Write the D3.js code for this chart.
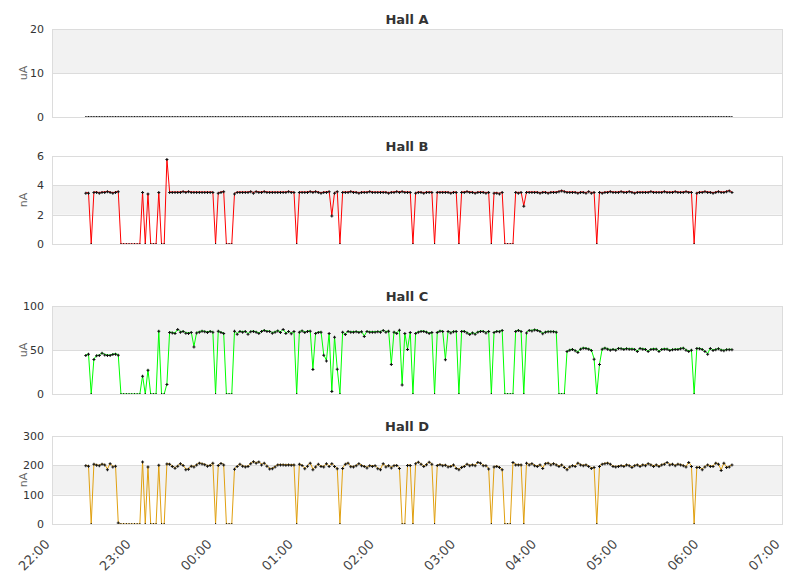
<!DOCTYPE html>
<html>
<head>
<meta charset="utf-8">
<script src="https://cdn.jsdelivr.net/npm/d3@7"></script>
<style>
  body { margin: 0; background: #fff; }
  svg text { font-family: "DejaVu Sans", sans-serif; }
</style>
</head>
<body>
<div id="chart"></div>
<script>
// readings every 2 minutes, first one at 22:25
const START_TIME = "2020-01-01T22:25:00";
const STEP_MINUTES = 2;
const X_DOMAIN = ["2020-01-01T22:00:00", "2020-01-02T07:00:00"];

const hallTitles = ["Hall A", "Hall B", "Hall C", "Hall D"];
const hallUnits = ["uA", "nA", "uA", "nA"];
const hallTicks = [[0, 10, 20], [0, 2, 4, 6], [0, 50, 100], [0, 100, 200, 300]];

const hallA = [
  0, 0, 0, 0, 0, 0, 0, 0, 0, 0,
  0, 0, 0, 0, 0, 0, 0, 0, 0, 0,
  0, 0, 0, 0, 0, 0, 0, 0, 0, 0,
  0, 0, 0, 0, 0, 0, 0, 0, 0, 0,
  0, 0, 0, 0, 0, 0, 0, 0, 0, 0,
  0, 0, 0, 0, 0, 0, 0, 0, 0, 0,
  0, 0, 0, 0, 0, 0, 0, 0, 0, 0,
  0, 0, 0, 0, 0, 0, 0, 0, 0, 0,
  0, 0, 0, 0, 0, 0, 0, 0, 0, 0,
  0, 0, 0, 0, 0, 0, 0, 0, 0, 0,
  0, 0, 0, 0, 0, 0, 0, 0, 0, 0,
  0, 0, 0, 0, 0, 0, 0, 0, 0, 0,
  0, 0, 0, 0, 0, 0, 0, 0, 0, 0,
  0, 0, 0, 0, 0, 0, 0, 0, 0, 0,
  0, 0, 0, 0, 0, 0, 0, 0, 0, 0,
  0, 0, 0, 0, 0, 0, 0, 0, 0, 0,
  0, 0, 0, 0, 0, 0, 0, 0, 0, 0,
  0, 0, 0, 0, 0, 0, 0, 0, 0, 0,
  0, 0, 0, 0, 0, 0, 0, 0, 0, 0,
  0, 0, 0, 0, 0, 0, 0, 0, 0, 0,
  0, 0, 0, 0, 0, 0, 0, 0, 0, 0,
  0, 0, 0, 0, 0, 0, 0, 0, 0, 0,
  0, 0, 0, 0, 0, 0, 0, 0, 0, 0,
  0, 0, 0, 0, 0, 0, 0, 0, 0, 0
];

const hallB = [
  3.5, 3.5, 0, 3.55, 3.55, 3.5, 3.55, 3.55, 3.6, 3.55,
  3.5, 3.55, 3.6, 0, 0, 0, 0, 0, 0, 0,
  0, 3.55, 0, 3.45, 0, 0, 0, 3.55, 0, 0,
  5.8, 3.55, 3.55, 3.55, 3.55, 3.55, 3.6, 3.55, 3.6, 3.55,
  3.55, 3.55, 3.55, 3.55, 3.55, 3.55, 3.55, 3.55, 0, 3.5,
  3.55, 3.6, 0, 0, 0, 3.45, 3.55, 3.55, 3.55, 3.55,
  3.55, 3.6, 3.5, 3.6, 3.55, 3.55, 3.6, 3.55, 3.55, 3.55,
  3.55, 3.55, 3.55, 3.55, 3.55, 3.6, 3.55, 3.55, 0, 3.55,
  3.55, 3.55, 3.55, 3.6, 3.55, 3.6, 3.55, 3.5, 3.55, 3.55,
  3.6, 1.95, 3.5, 3.6, 0, 3.55, 3.55, 3.55, 3.6, 3.55,
  3.55, 3.5, 3.55, 3.55, 3.55, 3.6, 3.55, 3.55, 3.55, 3.55,
  3.55, 3.55, 3.5, 3.55, 3.55, 3.6, 3.55, 3.6, 3.55, 3.55,
  3.55, 0, 3.5, 3.55, 3.55, 3.5, 3.55, 3.55, 3.55, 0,
  3.55, 3.55, 3.55, 3.55, 3.55, 3.5, 3.55, 3.55, 0, 3.55,
  3.55, 3.6, 3.55, 3.55, 3.5, 3.55, 3.55, 3.55, 3.5, 3.55,
  0, 3.5, 3.5, 3.45, 3.55, 0, 0, 0, 0, 3.55,
  3.5, 3.55, 2.6, 3.55, 3.55, 3.55, 3.55, 3.55, 3.5, 3.55,
  3.55, 3.5, 3.55, 3.55, 3.55, 3.6, 3.65, 3.6, 3.55, 3.55,
  3.55, 3.55, 3.5, 3.55, 3.55, 3.5, 3.6, 3.5, 3.55, 0,
  3.55, 3.5, 3.55, 3.55, 3.6, 3.55, 3.55, 3.55, 3.6, 3.55,
  3.55, 3.6, 3.55, 3.5, 3.55, 3.55, 3.55, 3.55, 3.55, 3.6,
  3.55, 3.55, 3.55, 3.55, 3.6, 3.55, 3.55, 3.55, 3.6, 3.55,
  3.55, 3.55, 3.6, 3.55, 3.55, 0, 3.5, 3.55, 3.55, 3.6,
  3.55, 3.55, 3.5, 3.55, 3.6, 3.55, 3.55, 3.6, 3.65, 3.55
];

const hallC = [
  44.3, 45.8, 0, 39.7, 43.9, 44.3, 46.9, 45, 44.3, 44.3,
  45.4, 45.8, 44.7, 0, 0, 0, 0, 0, 0, 0,
  0, 20.8, 0, 27.6, 0, 0, 0, 72, 0, 0,
  11.4, 70.4, 70, 69.3, 73.8, 70.8, 71.6, 69.7, 69.3, 70.4,
  54.1, 70, 70.8, 71.9, 71.2, 70.4, 71.6, 70.8, 0, 71.9,
  70.4, 69.3, 0, 0, 0, 71.9, 68.5, 71.6, 70.8, 71.6,
  68.5, 71.2, 71.6, 70.8, 69.3, 71.6, 72.7, 71.6, 71.6, 69.7,
  70.8, 72.3, 70.4, 73.8, 69.3, 71.6, 68.9, 71.6, 0, 70.8,
  72.3, 70.4, 71.6, 72, 28.4, 69.3, 70.4, 70.8, 44.7, 38.2,
  69.3, 3.4, 65.1, 28.7, 0, 70.8, 68.1, 71.6, 70.8, 70.8,
  71.2, 70.4, 71.2, 65.9, 71.6, 70.8, 70.8, 70.8, 71.2, 70.8,
  72.7, 70.8, 71.9, 34, 70.8, 69.3, 73, 10.9, 69.3, 51.1,
  70.4, 0, 69.3, 70.8, 71.6, 71.6, 70.8, 69.3, 70.4, 0,
  70.4, 71.9, 71.6, 39.4, 71.6, 70, 71.2, 71.6, 0, 71.6,
  71.6, 70, 68.1, 70, 68.5, 70.8, 71.6, 71.6, 70, 71.6,
  0, 70.4, 71.6, 71.2, 72.7, 0, 0, 0, 0, 71.6,
  72.7, 71.6, 0, 70, 72.7, 72.3, 73.4, 72.7, 71.6, 68.9,
  70.8, 71.2, 71.2, 71.2, 70.8, 0, 0, 0, 48.8, 50.4,
  51.1, 49.6, 47.7, 51.5, 52.6, 52.2, 51.5, 50, 40.1, 0,
  34, 51.5, 52.6, 51.5, 50.4, 51.1, 50.4, 52.2, 51.9, 51.1,
  51.9, 51.5, 51.5, 51.1, 48.8, 52.2, 51.5, 51.1, 48.8, 51.1,
  51.5, 51.5, 48.8, 51.1, 51.5, 51.5, 50, 50.8, 51.1, 51.1,
  51.9, 52.6, 50.4, 48.8, 50.4, 0, 52.2, 51.9, 51.1, 48.8,
  45.8, 52.2, 50, 50.8, 51.9, 50.4, 49.6, 50.8, 50.8, 50.8
];

const hallD = [
  200, 199, 0, 205, 202, 200, 205, 203, 187, 207,
  196, 199, 5, 0, 0, 0, 0, 0, 0, 0,
  0, 213, 0, 196, 0, 0, 0, 202, 0, 0,
  206, 205, 198, 192, 199, 207, 201, 187, 188, 199,
  196, 203, 209, 206, 204, 199, 201, 209, 0, 201,
  208, 203, 0, 0, 0, 188, 198, 205, 199, 196,
  198, 207, 214, 209, 213, 203, 209, 199, 189, 190,
  196, 203, 203, 203, 202, 203, 202, 203, 0, 205,
  201, 190, 199, 209, 187, 196, 205, 198, 196, 207,
  198, 207, 198, 190, 0, 191, 205, 209, 197, 196,
  200, 207, 200, 198, 193, 200, 198, 200, 190, 187,
  207, 196, 200, 193, 200, 201, 191, 0, 0, 201,
  201, 0, 207, 212, 205, 198, 204, 212, 205, 0,
  201, 204, 200, 202, 196, 198, 203, 191, 187, 194,
  198, 205, 200, 203, 200, 211, 209, 200, 200, 189,
  0, 196, 198, 194, 187, 0, 0, 0, 211, 203,
  203, 203, 0, 209, 203, 207, 200, 198, 203, 191,
  207, 209, 203, 207, 203, 198, 203, 194, 187, 196,
  200, 198, 209, 203, 200, 203, 198, 191, 194, 0,
  198, 205, 207, 209, 205, 198, 196, 198, 200, 198,
  203, 200, 194, 200, 203, 198, 203, 200, 207, 203,
  198, 203, 198, 203, 205, 211, 203, 205, 200, 205,
  203, 200, 196, 211, 198, 0, 194, 194, 187, 196,
  203, 198, 198, 209, 205, 184, 209, 194, 196, 203
];

const hallValues = [hallA, hallB, hallC, hallD];
const hallColors = ["#333333", "#ff0000", "#00ff00", "#e0a010"];

// layout
const W = 811, H = 578;
const plotLeft = 52, plotRight = 782, plotHeight = 88;
const panelTops = [29, 156, 306, 436];

// small plus-shaped marker, 3px across
const MARKER = "M-0.5,-1.5H0.5V-0.5H1.5V0.5H0.5V1.5H-0.5V0.5H-1.5V-0.5H-0.5Z";

function createSvg() {
  return d3
    .select("#chart")
    .append("svg")
    .attr("width", W)
    .attr("height", H)
    .style("display", "block");
}

function createXScale() {
  return d3
    .scaleTime()
    .domain(X_DOMAIN.map((d) => new Date(d)))
    .range([plotLeft, plotRight]);
}

function drawPanel(svg, k, xScale, times) {
  const top = panelTops[k];
  const ticks = hallTicks[k];
  const values = hallValues[k];
  const yScale = d3
    .scaleLinear()
    .domain([0, d3.max(ticks)])
    .range([top + plotHeight, top]);

  const g = svg.append("g");

  const clipId = "clip" + k;
  svg.append("clipPath")
    .attr("id", clipId)
    .append("rect")
    .attr("x", plotLeft - 3)
    .attr("y", top - 3)
    .attr("width", plotRight - plotLeft + 6)
    .attr("height", plotHeight + 4);

  // alternate bands, every second one grey
  const bands = d3.pairs(ticks).filter((_, j) => j % 2 === 1);
  g.selectAll(".band")
    .data(bands)
    .enter()
    .append("rect")
    .attr("x", plotLeft)
    .attr("width", plotRight - plotLeft)
    .attr("y", (d) => yScale(d[1]))
    .attr("height", (d) => yScale(d[0]) - yScale(d[1]))
    .attr("fill", "#f2f2f2");

  g.selectAll(".grid")
    .data(ticks)
    .enter()
    .append("line")
    .attr("x1", plotLeft)
    .attr("x2", plotRight)
    .attr("y1", (d) => yScale(d) + 0.5)
    .attr("y2", (d) => yScale(d) + 0.5)
    .attr("stroke", "#dcdcdc")
    .attr("shape-rendering", "crispEdges");

  const line = d3
    .line()
    .x((d, i) => xScale(times[i]))
    .y((d) => yScale(d));

  g.append("path")
    .datum(values)
    .attr("d", line)
    .attr("clip-path", `url(#${clipId})`)
    .attr("fill", "none")
    .attr("stroke", hallColors[k])
    .attr("stroke-width", 1);

  g.append("g")
    .attr("clip-path", `url(#${clipId})`)
    .selectAll(".pt")
    .data(values)
    .enter()
    .append("path")
    .attr("d", MARKER)
    .attr("transform", (d, i) => `translate(${xScale(times[i])},${yScale(d) + 0.5})`)
    .attr("fill", "#111");

  // plot frame on top: hides the arms of markers sitting on zero
  g.append("rect")
    .attr("x", plotLeft + 0.5)
    .attr("y", top + 0.5)
    .attr("width", plotRight - plotLeft)
    .attr("height", plotHeight)
    .attr("fill", "none")
    .attr("stroke", "#dcdcdc")
    .attr("shape-rendering", "crispEdges");

  // y axis labels
  const yAxis = d3
    .axisLeft(yScale)
    .tickValues(ticks)
    .tickFormat(d3.format("d"))
    .tickSize(0)
    .tickPadding(8);
  const ax = g.append("g").attr("transform", `translate(${plotLeft},0)`).call(yAxis);
  ax.select(".domain").remove();
  ax.selectAll("text")
    .style("font-family", "DejaVu Sans")
    .style("font-size", "11px")
    .attr("fill", "#333");

  g.append("text")
    .attr("transform", `translate(27,${top + plotHeight / 2}) rotate(-90)`)
    .attr("text-anchor", "middle")
    .style("font-size", "11px")
    .attr("fill", "#666")
    .text(hallUnits[k]);

  g.append("text")
    .attr("x", 407)
    .attr("y", top - 5)
    .attr("text-anchor", "middle")
    .style("font-size", "13px")
    .style("font-weight", "bold")
    .attr("fill", "#333")
    .text(hallTitles[k]);
}

function addXAxis(svg, xScale) {
  const [x0, x1] = xScale.domain();
  const xAxis = d3
    .axisBottom(xScale)
    .tickValues(d3.timeHour.range(x0, d3.timeMinute.offset(x1, 1)))
    .tickFormat(d3.timeFormat("%H:%M"))
    .tickSize(0);

  const ax = svg
    .append("g")
    .attr("transform", `translate(0,${panelTops[3] + plotHeight})`)
    .call(xAxis);
  ax.select(".domain").remove();
  ax.selectAll("text")
    .attr("x", 0)
    .attr("y", 0)
    .attr("dy", 0)
    .attr("text-anchor", "end")
    .attr("transform", "translate(-2,21) rotate(-45)")
    .style("font-family", "DejaVu Sans")
    .style("font-size", "13px")
    .attr("fill", "#444");
}

const svg = createSvg();
const xScale = createXScale();
const start = new Date(START_TIME);
const times = hallB.map((_, i) => d3.timeMinute.offset(start, i * STEP_MINUTES));

hallTitles.forEach((_, k) => drawPanel(svg, k, xScale, times));
addXAxis(svg, xScale);
</script>
</body>
</html>
